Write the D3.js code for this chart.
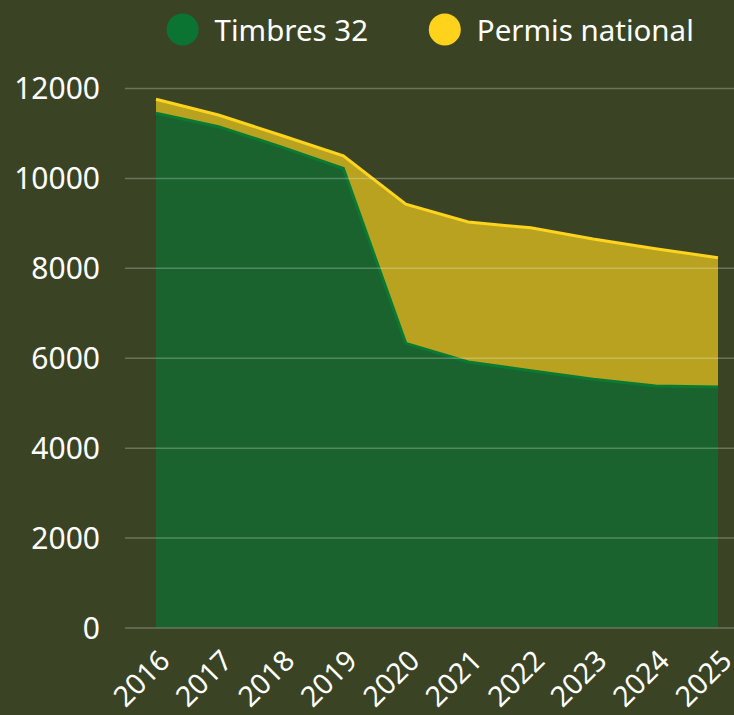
<!DOCTYPE html>
<html>
<head>
<meta charset="utf-8">
<script src="https://cdn.jsdelivr.net/npm/d3@7"></script>
<style>
  html, body { margin: 0; padding: 0; background: #3a4425; }
  text { font-family: "Noto Sans", sans-serif; fill: #fff; }
</style>
</head>
<body>
<div id="chart"></div>
<script>
const years = ['2016', '2017', '2018', '2019', '2020', '2021', '2022', '2023', '2024', '2025']
const timbres = [11440, 11140, 10690, 10210, 6320, 5905, 5710, 5520, 5370, 5350]
const permis = [310, 260, 260, 280, 3095, 3115, 3180, 3120, 3055, 2875]
const yTicks = [0, 2000, 4000, 6000, 8000, 10000, 12000]
const seriesNames = ['Timbres 32', 'Permis national']
const lineColors = ['#0a7a33', '#ffd41c']
const fillColors = ['#1a622e', '#b8a21f']

const width = 734, height = 715
const svg = d3.select('#chart').append('svg').attr('width', width).attr('height', height)

const x = d3.scalePoint().domain(years).range([156, 718])
const y = d3.scaleLinear().domain([0, 12000]).range([627.5, 88])

const rows = years.map((yr, i) => ({ year: yr, 'Timbres 32': timbres[i], 'Permis national': permis[i] }))
const stacked = d3.stack().keys(seriesNames)(rows)

const area = d3.area().x(d => x(d.data.year)).y0(d => y(d[0])).y1(d => y(d[1]))
const line = d3.line().x(d => x(d.data.year)).y(d => y(d[1]))

svg.append('g').selectAll('path').
    data(stacked).
    enter().
    append('path').
    attr('d', area).
    attr('fill', (d, i) => fillColors[i])

svg.append('g').selectAll('path').
    data(stacked).
    enter().
    append('path').
    attr('d', line).
    attr('fill', 'none').
    attr('stroke', (d, i) => lineColors[i]).
    attr('stroke-width', 3)

// grid + y labels
const yAxis = svg.append('g').attr('transform', 'translate(125,0)').
    call(d3.axisLeft(y).tickValues(yTicks).tickSize(-609).tickPadding(25).tickFormat(d3.format('d')))
yAxis.select('.domain').remove()
yAxis.selectAll('line').attr('stroke', '#fff').attr('stroke-opacity', 0.25).attr('stroke-width', 1.5)
yAxis.selectAll('text').attr('font-size', 30).attr('fill', '#fff').attr('dy', '0.36em')

// x labels, rotated
const xAxis = svg.append('g').attr('transform', 'translate(0,627.5)').
    call(d3.axisBottom(x).tickSize(0).tickPadding(0))
xAxis.select('.domain').remove()
xAxis.selectAll('text').
    attr('font-size', 28.5).
    attr('fill', '#fff').
    attr('text-anchor', 'end').
    attr('dy', null).
    attr('transform', 'translate(15,35) rotate(-45)')

// legend
const legendX = [182.6, 444.8]
const legend = svg.append('g').selectAll('g').
    data(seriesNames).
    enter().
    append('g').
    attr('transform', (d, i) => `translate(${legendX[i]},29.5)`)
legend.append('circle').attr('r', 16).attr('fill', (d, i) => i === 0 ? '#0b7432' : '#ffd21c')
legend.append('text').attr('x', 32).attr('y', 11).attr('font-size', 29.5).text(d => d)
</script>
</body>
</html>
